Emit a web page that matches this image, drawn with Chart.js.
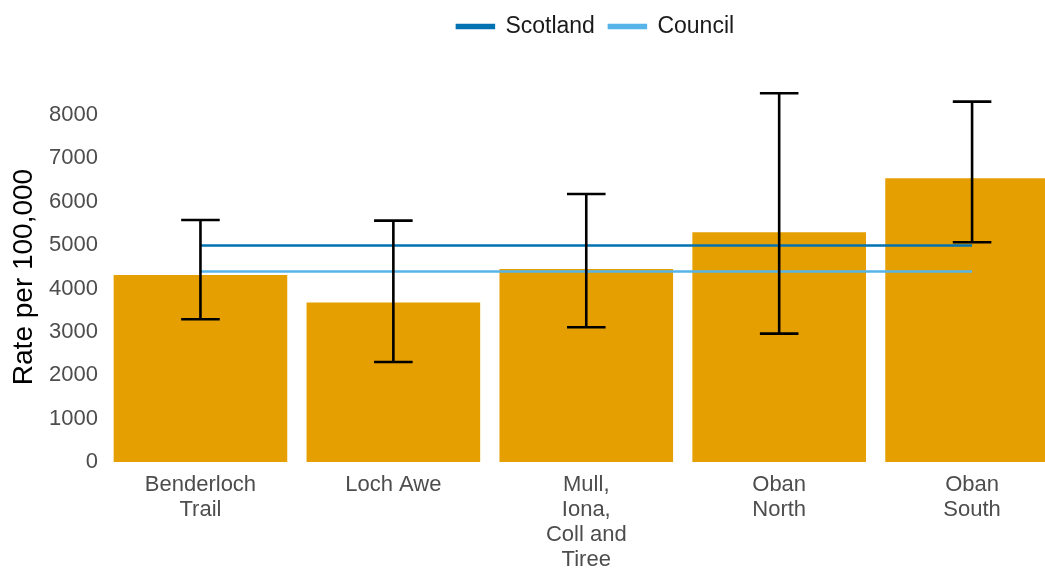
<!DOCTYPE html>
<html>
<head>
<meta charset="utf-8">
<script src="https://cdn.jsdelivr.net/npm/chart.js@4"></script>
<style>
  html, body { margin: 0; padding: 0; background: #ffffff; }
  #wrap { width: 1045px; height: 569px; position: relative; }
</style>
</head>
<body>
<div id="wrap"><canvas id="c" width="1045" height="569"></canvas></div>
<script>
// ---- data ----
const categories = [
  ["Benderloch", "Trail"],
  "Loch Awe",
  ["Mull,", "Iona,", "Coll and", "Tiree"],
  ["Oban", "North"],
  ["Oban", "South"]
];
const rates = [4310, 3675, 4450, 5296, 6540];
const lowerCI = [3290, 2305, 3105, 2960, 5065];
const upperCI = [5580, 5565, 6180, 8500, 8307];
const scotlandRate = 4990;
const councilRate = 4390;
const yTicks = [0, 1000, 2000, 3000, 4000, 5000, 6000, 7000, 8000];

const FONT = "'Liberation Sans', Arial, Helvetica, sans-serif";
const idx = categories.map((_, i) => i);

const errorBarPlugin = {
  id: 'errorBars',
  afterDatasetsDraw(chart) {
    const xs = chart.scales.x, ys = chart.scales.y, ctx = chart.ctx;
    const half = xs.getPixelForValue(0.1) - xs.getPixelForValue(0);
    ctx.save();
    ctx.strokeStyle = '#000000';
    ctx.lineWidth = 2.6;
    idx.forEach(i => {
      const x = xs.getPixelForValue(i);
      const yl = ys.getPixelForValue(lowerCI[i]);
      const yu = ys.getPixelForValue(upperCI[i]);
      ctx.beginPath();
      ctx.moveTo(x, yl); ctx.lineTo(x, yu);
      ctx.moveTo(x - half, yu); ctx.lineTo(x + half, yu);
      ctx.moveTo(x - half, yl); ctx.lineTo(x + half, yl);
      ctx.stroke();
    });
    ctx.restore();
  }
};

const legendSpace = {
  id: 'legendSpace',
  afterInit(chart) {
    const lg = chart.legend;
    if (lg && !lg._patched) {
      const f = lg.fit;
      lg.fit = function () { f.call(this); this.height = 92; };
      const d = lg.draw;
      lg.draw = function () {
        const ctx = this.ctx;
        ctx.save();
        ctx.translate(21, 1);
        d.apply(this, arguments);
        ctx.restore();
      };
      lg._patched = true;
    }
  }
};

new Chart(document.getElementById('c'), {
  data: {
    datasets: [
      {
        type: 'line', label: 'Scotland', order: 1,
        data: [{ x: 0, y: scotlandRate }, { x: categories.length - 1, y: scotlandRate }],
        borderColor: '#0072B2', backgroundColor: '#0072B2', borderWidth: 2.5,
        pointRadius: 0, fill: false
      },
      {
        type: 'line', label: 'Council', order: 2,
        data: [{ x: 0, y: councilRate }, { x: categories.length - 1, y: councilRate }],
        borderColor: '#56B4E9', backgroundColor: '#56B4E9', borderWidth: 2.5,
        pointRadius: 0, fill: false
      },
      {
        type: 'bar', label: 'Rate', order: 3,
        data: idx.map(i => ({ x: i, y: rates[i] })),
        backgroundColor: '#E69F00', borderWidth: 0,
        barPercentage: 0.9, categoryPercentage: 1.0
      }
    ]
  },
  options: {
    responsive: false,
    animation: false,
    layout: { padding: 0 },
    scales: {
      x: {
        type: 'linear', min: -0.5, max: 4.378, offset: false,
        grid: { display: false, drawTicks: false }, border: { display: false },
        afterBuildTicks(s) { s.ticks = idx.map(v => ({ value: v })); },
        afterFit(s) { s.height = 107; },
        ticks: {
          autoSkip: false, maxRotation: 0, padding: 10,
          color: '#4D4D4D', font: { family: FONT, size: 22, lineHeight: '25px' },
          callback: (v) => categories[v]
        }
      },
      y: {
        min: 0, max: 8530,
        grid: { display: false, drawTicks: false }, border: { display: false },
        afterBuildTicks(s) { s.ticks = yTicks.map(v => ({ value: v })); },
        afterFit(s) { s.width = 104; },
        ticks: {
          padding: 6, color: '#4D4D4D', font: { family: FONT, size: 22 },
          callback: (v) => String(v)
        },
        title: {
          display: true, text: 'Rate per 100,000', color: '#000000',
          font: { family: FONT, size: 28 }, padding: { top: 7, bottom: 0 }
        }
      }
    },
    plugins: {
      tooltip: { enabled: false },
      legend: {
        position: 'top', fullSize: false,
        labels: {
          filter: (item) => item.text !== 'Rate',
          boxWidth: 37, boxHeight: 3, padding: 14,
          color: '#1A1A1A', font: { family: FONT, size: 23 }
        }
      }
    }
  },
  plugins: [errorBarPlugin, legendSpace]
});
</script>
</body>
</html>
